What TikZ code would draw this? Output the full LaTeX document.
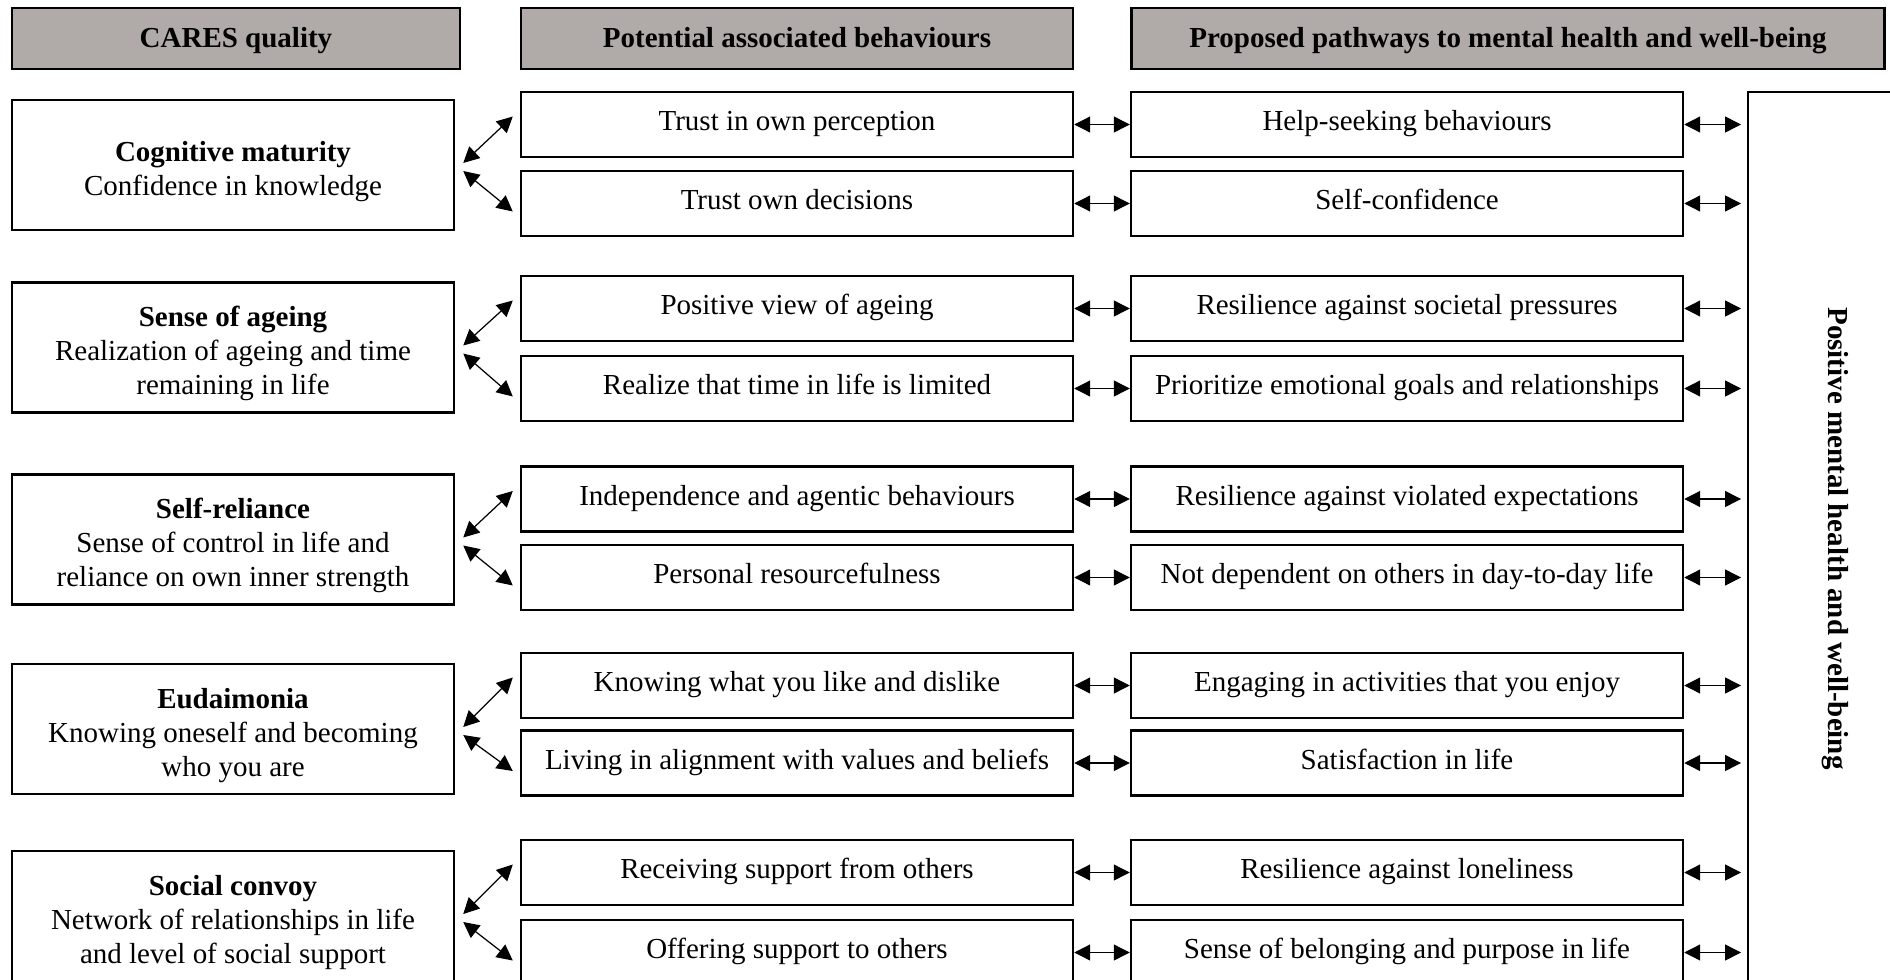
\documentclass[tikz,border=0pt]{standalone}
\usepackage{fontspec}
\setmainfont{Liberation Serif}
\usepackage{graphicx}
\usepackage{tikz}
\usetikzlibrary{arrows.meta}
\definecolor{headgray}{RGB}{176,171,169}
\newcommand{\px}{0.02cm}
\newcommand{\boxline}{1.4pt}
\newcommand{\figfont}{\fontsize{16.5}{19.4}\selectfont}
\newcommand{\qtitle}[1]{\rule{0pt}{18.5pt}\textbf{#1}}
\tikzset{
headbox/.style={draw, fill=headgray, line width=\boxline, minimum height=61*\px, inner sep=0pt, font=\figfont\bfseries, text height=13pt, text depth=2.3pt},
qualbox/.style={draw, line width=\boxline, minimum width=442*\px, minimum height=130*\px, inner sep=0pt, align=center},
itembox/.style={draw, line width=\boxline, minimum width=552*\px, minimum height=65*\px, inner sep=0pt, text height=12pt, text depth=5pt},
dbl/.style={{Triangle[length=9pt,width=9pt]}-{Triangle[length=9pt,width=9pt]}, line width=0.7pt}
}

\begin{document}
\begin{tikzpicture}[x=\px, y=-\px, font=\figfont]
\useasboundingbox (0,0) rectangle (1890,980);
\clip (0,0) rectangle (1890,980);
%headers
\node[headbox, minimum width=448*\px] (h1) at (236,38.5) {CARES quality};
\node[headbox, minimum width=552*\px] (h2) at (797,38.5) {Potential associated behaviours};
\node[headbox, minimum width=753*\px] (h3) at (1508,38.5) {Proposed pathways to mental health and well-being};
%outcome
\node[draw, line width=1.1pt, minimum width=174*\px, minimum height=893*\px, inner sep=0pt] (pmh) at (1835,538.5) {\rotatebox{-90}{\bfseries Positive mental health and well-being}};
%cognitive maturity
\node[qualbox] (q1) at (233,165) {\qtitle{Cognitive maturity}\\Confidence in knowledge};
\node[itembox] (b1a) at (797,124.5) {Trust in own perception};
\node[itembox] (b1b) at (797,203.5) {Trust own decisions};
\node[itembox] (p1a) at (1407,124.5) {Help-seeking behaviours};
\node[itembox] (p1b) at (1407,203.5) {Self-confidence};
\draw[dbl] ([shift={(8,-2)}]q1.east) -- ([shift={(-7,-8)}]b1a.west);
\draw[dbl] ([shift={(8,6)}]q1.east) -- ([shift={(-7,8)}]b1b.west);
\draw[dbl] (b1a) -- (p1a);
\draw[dbl] (b1b) -- (p1b);
\draw[dbl] (p1a.east) -- ([shift={(-6,0)}]p1a.east -| pmh.west);
\draw[dbl] (p1b.east) -- ([shift={(-6,0)}]p1b.east -| pmh.west);
%sense of ageing
\node[qualbox] (q2) at (233,347.5) {\qtitle{Sense of ageing}\\Realization of ageing and time\\remaining in life};
\node[itembox] (b2a) at (797,308.5) {Positive view of ageing};
\node[itembox] (b2b) at (797,388.5) {Realize that time in life is limited};
\node[itembox] (p2a) at (1407,308.5) {Resilience against societal pressures};
\node[itembox] (p2b) at (1407,388.5) {Prioritize emotional goals and relationships};
\draw[dbl] ([shift={(8,-2)}]q2.east) -- ([shift={(-7,-8)}]b2a.west);
\draw[dbl] ([shift={(8,6)}]q2.east) -- ([shift={(-7,8)}]b2b.west);
\draw[dbl] (b2a) -- (p2a);
\draw[dbl] (b2b) -- (p2b);
\draw[dbl] (p2a.east) -- ([shift={(-6,0)}]p2a.east -| pmh.west);
\draw[dbl] (p2b.east) -- ([shift={(-6,0)}]p2b.east -| pmh.west);
%self-reliance
\node[qualbox] (q3) at (233,539.5) {\qtitle{Self-reliance}\\Sense of control in life and\\reliance on own inner strength};
\node[itembox] (b3a) at (797,499) {Independence and agentic behaviours};
\node[itembox] (b3b) at (797,577.5) {Personal resourcefulness};
\node[itembox] (p3a) at (1407,499) {Resilience against violated expectations};
\node[itembox] (p3b) at (1407,577.5) {Not dependent on others in day-to-day life};
\draw[dbl] ([shift={(8,-2)}]q3.east) -- ([shift={(-7,-8)}]b3a.west);
\draw[dbl] ([shift={(8,6)}]q3.east) -- ([shift={(-7,8)}]b3b.west);
\draw[dbl] (b3a) -- (p3a);
\draw[dbl] (b3b) -- (p3b);
\draw[dbl] (p3a.east) -- ([shift={(-6,0)}]p3a.east -| pmh.west);
\draw[dbl] (p3b.east) -- ([shift={(-6,0)}]p3b.east -| pmh.west);
%eudaimonia
\node[qualbox] (q4) at (233,729) {\qtitle{Eudaimonia}\\Knowing oneself and becoming\\who you are};
\node[itembox] (b4a) at (797,685.5) {Knowing what you like and dislike};
\node[itembox] (b4b) at (797,763) {Living in alignment with values and beliefs};
\node[itembox] (p4a) at (1407,685.5) {Engaging in activities that you enjoy};
\node[itembox] (p4b) at (1407,763) {Satisfaction in life};
\draw[dbl] ([shift={(8,-2)}]q4.east) -- ([shift={(-7,-8)}]b4a.west);
\draw[dbl] ([shift={(8,6)}]q4.east) -- ([shift={(-7,8)}]b4b.west);
\draw[dbl] (b4a) -- (p4a);
\draw[dbl] (b4b) -- (p4b);
\draw[dbl] (p4a.east) -- ([shift={(-6,0)}]p4a.east -| pmh.west);
\draw[dbl] (p4b.east) -- ([shift={(-6,0)}]p4b.east -| pmh.west);
%social convoy
\node[qualbox] (q5) at (233,916) {\qtitle{Social convoy}\\Network of relationships in life\\and level of social support};
\node[itembox] (b5a) at (797,872.5) {Receiving support from others};
\node[itembox] (b5b) at (797,952.5) {Offering support to others};
\node[itembox] (p5a) at (1407,872.5) {Resilience against loneliness};
\node[itembox] (p5b) at (1407,952.5) {Sense of belonging and purpose in life};
\draw[dbl] ([shift={(8,-2)}]q5.east) -- ([shift={(-7,-8)}]b5a.west);
\draw[dbl] ([shift={(8,6)}]q5.east) -- ([shift={(-7,8)}]b5b.west);
\draw[dbl] (b5a) -- (p5a);
\draw[dbl] (b5b) -- (p5b);
\draw[dbl] (p5a.east) -- ([shift={(-6,0)}]p5a.east -| pmh.west);
\draw[dbl] (p5b.east) -- ([shift={(-6,0)}]p5b.east -| pmh.west);
\end{tikzpicture}
\end{document}
